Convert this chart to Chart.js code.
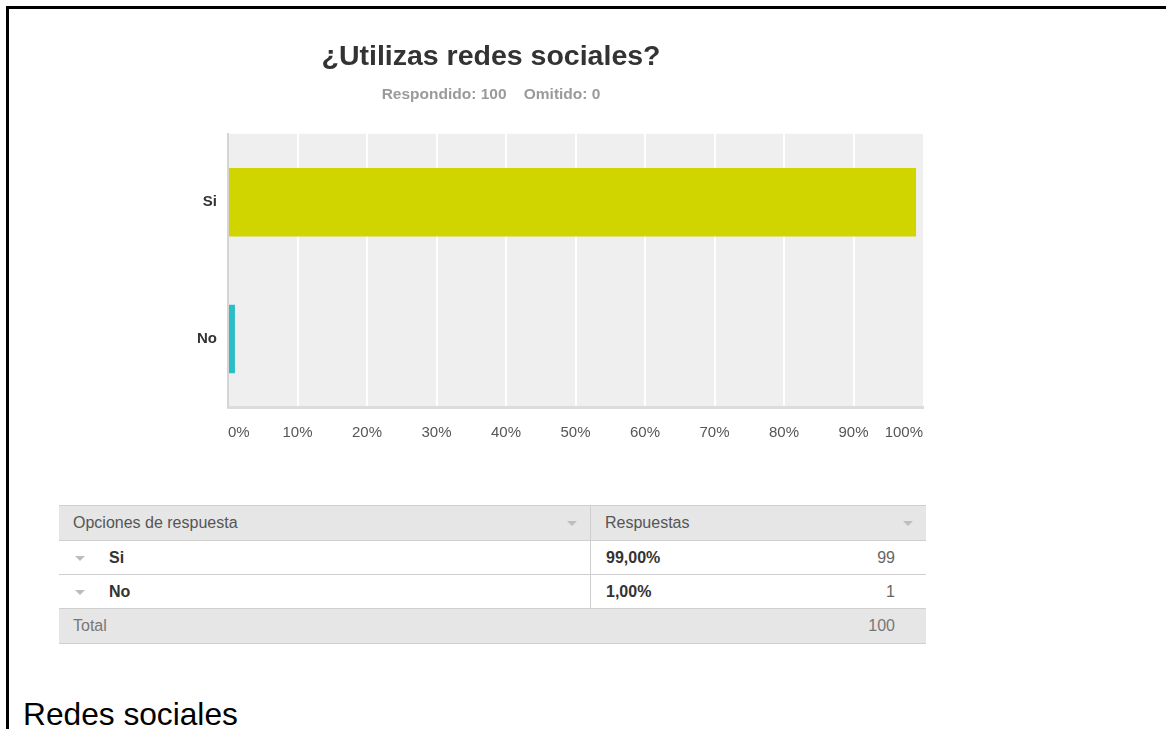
<!DOCTYPE html>
<html lang="es">
<head>
<meta charset="utf-8">
<title>¿Utilizas redes sociales?</title>
<script src="https://cdn.jsdelivr.net/npm/chart.js@4/dist/chart.umd.min.js"></script>
<style>
  html, body { margin: 0; padding: 0; background: #fff; }
  body { width: 1166px; height: 729px; position: relative; overflow: hidden;
         font-family: "Liberation Sans", Arial, Helvetica, sans-serif; }
  #frame { position: absolute; left: 6px; top: 6px; right: 0; bottom: 0;
           border-top: 3px solid #000; border-left: 3px solid #000; }
  #chartBox { position: absolute; left: 59px; top: 0; width: 867px; height: 442px; }
  #results { position: absolute; left: 59px; top: 505px; width: 867px;
             border-collapse: collapse; font-size: 16px; table-layout: fixed; }
  #results td { padding: 0; border-top: 1px solid #cfcfcf; border-bottom: 1px solid #cfcfcf;
                position: relative; white-space: nowrap; }
  #results tr.head td { background: #e6e6e6; color: #555; height: 34px; }
  #results tr.row td { background: #fff; height: 33px; }
  #results tr.total td { background: #e6e6e6; color: #777; height: 34px; }
  #results td.c1 { width: 531px; border-right: 1px solid #cfcfcf; }
  .caret { position: absolute; width: 0; height: 0; top: 50%; margin-top: -2px;
           border-left: 5px solid transparent; border-right: 5px solid transparent;
           border-top: 5px solid #bdbdbd; }
  .lbl { position: absolute; left: 50px; top: 50%; transform: translateY(-50%);
         font-weight: bold; color: #333; }
  .pct { position: absolute; left: 15px; top: 50%; transform: translateY(-50%);
         font-weight: bold; color: #333; }
  .cnt { position: absolute; right: 31px; top: 50%; transform: translateY(-50%); color: #666; }
  .txt { position: absolute; left: 14px; top: 50%; transform: translateY(-50%); }
  #caption { position: absolute; left: 23px; top: 698px; font-size: 31.7px; line-height: 32px;
             color: #000; white-space: nowrap; }
</style>
</head>
<body>
<div id="frame"></div>
<div id="chartBox"><canvas id="chart"></canvas></div>
<table id="results"><tbody id="resultsBody"></tbody></table>
<div id="caption">Redes sociales</div>

<script>
// Survey answers
const categories = ['Si', 'No'];
const counts = [99, 1];
const percentages = [99.00, 1.00];
const answered = 100;
const skipped = 0;
const barColors = ['#d0d500', '#2dbdc6'];
const tickStep = 10;

const questionTitle = '¿Utilizas redes sociales?';
const subtitleText = 'Respondido: ' + answered + '    Omitido: ' + skipped;

const FONT = '"Liberation Sans", Arial, Helvetica, sans-serif';

// Light grey plot background behind the grid
const plotBackground = {
  id: 'plotBackground',
  beforeDraw(chart) {
    const { ctx, chartArea: a } = chart;
    ctx.save();
    ctx.fillStyle = '#efefef';
    ctx.fillRect(a.left, a.top, a.right - a.left, a.bottom - a.top);
    ctx.restore();
  }
};

new Chart(document.getElementById('chart'), {
  type: 'bar',
  data: {
    labels: categories,
    datasets: [{
      data: percentages,
      backgroundColor: barColors,
      borderWidth: 0,
      categoryPercentage: 1,
      barPercentage: 0.5
    }]
  },
  plugins: [plotBackground],
  options: {
    indexAxis: 'y',
    responsive: true,
    maintainAspectRatio: false,
    animation: false,
    layout: { autoPadding: false, padding: { left: 0, right: 3, top: 0, bottom: 0 } },
    plugins: {
      legend: { display: false },
      tooltip: { enabled: false },
      title: {
        display: true,
        text: questionTitle,
        color: '#333',
        font: { family: FONT, size: 28.5, weight: 'bold', lineHeight: 1.2 },
        padding: { top: 40, bottom: 11 }
      },
      subtitle: {
        display: true,
        text: subtitleText,
        color: '#9a9a9a',
        font: { family: FONT, size: 15.5, weight: 'bold', lineHeight: 1.2 },
        padding: { top: 0, bottom: 30 }
      }
    },
    scales: {
      x: {
        min: 0,
        max: 100,
        afterFit(scale) { scale.height = 34.5; },
        ticks: {
          stepSize: tickStep,
          align: 'inner',
          padding: 0,
          color: '#555',
          font: { family: FONT, size: 15, lineHeight: 1.2 },
          callback: v => v + '%'
        },
        grid: {
          drawTicks: true,
          tickLength: 16,
          tickColor: 'rgba(0,0,0,0)',
          lineWidth: 2,
          color: ctx => (ctx.tick && (ctx.tick.value === 0 || ctx.tick.value === 100)) ? 'rgba(0,0,0,0)' : '#ffffff'
        },
        border: { display: true, color: '#dcdcdc', width: 3 }
      },
      y: {
        afterFit(scale) { scale.width = 169; },
        ticks: {
          padding: 0,
          color: '#333',
          font: { family: FONT, size: 15, weight: 'bold', lineHeight: 1.2 }
        },
        grid: {
          display: true,
          drawOnChartArea: false,
          drawTicks: true,
          tickLength: 11,
          tickColor: 'rgba(0,0,0,0)',
          color: 'rgba(0,0,0,0)'
        },
        border: { display: true, color: '#d5d5d5', width: 2 }
      }
    }
  }
});

// Results table built from the same arrays
const total = counts.reduce((s, v) => s + v, 0);
const fmtPct = v => v.toFixed(2).replace('.', ',') + '%';
const body = document.getElementById('resultsBody');
let html = '<tr class="head"><td class="c1"><span class="txt">Opciones de respuesta</span>' +
           '<span class="caret" style="right:13px"></span></td>' +
           '<td><span class="txt">Respuestas</span><span class="caret" style="right:13px"></span></td></tr>';
categories.forEach((c, i) => {
  html += '<tr class="row"><td class="c1"><span class="caret" style="left:16px"></span>' +
          '<span class="lbl">' + c + '</span></td>' +
          '<td><span class="pct">' + fmtPct(percentages[i]) + '</span>' +
          '<span class="cnt">' + counts[i] + '</span></td></tr>';
});
html += '<tr class="total"><td class="c1" style="border-right:none"><span class="txt">Total</span></td>' +
        '<td><span class="cnt" style="color:#777">' + total + '</span></td></tr>';
body.innerHTML = html;
</script>
</body>
</html>
